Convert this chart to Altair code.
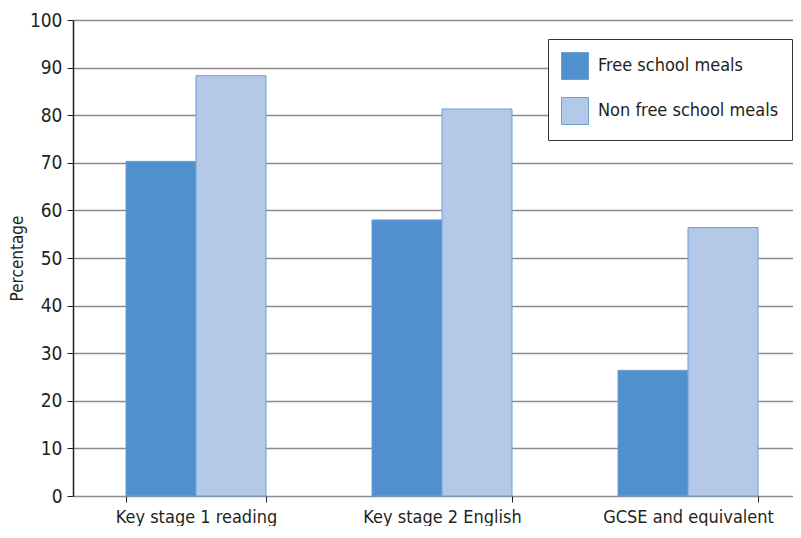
import altair as alt
import pandas as pd

categories = ["Key stage 1 reading", "Key stage 2 English", "GCSE and equivalent"]
series_names = ["Free school meals", "Non free school meals"]
fsm = [70.3, 58.0, 26.4]
non_fsm = [88.3, 81.3, 56.4]
y_ticks = [0, 10, 20, 30, 40, 50, 60, 70, 80, 90, 100]

rows = []
for c, a, b in zip(categories, fsm, non_fsm):
    rows.append({"cat": c, "series": series_names[0], "value": a})
    rows.append({"cat": c, "series": series_names[1], "value": b})
df = pd.DataFrame(rows)

FONT = "Liberation Sans Narrow, DejaVu Sans Condensed, Arial Narrow, sans-serif"
TXT = "#231f20"

bars = alt.Chart(df).mark_bar(strokeWidth=1).encode(
    x=alt.X(
        "cat:N",
        sort=categories,
        scale=alt.Scale(range=[0, 738], paddingInner=0.4309, paddingOuter=0.2154),
        axis=alt.Axis(
            title=None,
            domain=False,
            tickBand="extent",
            tickSize=6,
            tickColor=TXT,
            tickWidth=1,
            labelAngle=0,
            labelFont=FONT,
            labelFontSize=18,
            labelColor=TXT,
            labelPadding=6,
        ),
    ),
    xOffset=alt.XOffset(
        "series:N", sort=series_names, scale=alt.Scale(paddingInner=0, paddingOuter=0)
    ),
    y=alt.Y(
        "value:Q",
        scale=alt.Scale(domain=[0, 100], nice=False),
        axis=alt.Axis(
            title="Percentage",
            values=y_ticks,
            titleFont=FONT,
            titleFontSize=17,
            titleFontWeight="normal",
            titleColor=TXT,
            titlePadding=3,
            labelFont=FONT,
            labelFontSize=19,
            labelColor=TXT,
            labelPadding=5,
            domainColor=TXT,
            domainWidth=1.5,
            tickColor=TXT,
            tickSize=6,
            tickWidth=1,
            grid=True,
            gridColor="#8c8c8c",
            gridWidth=1.5,
        ),
    ),
    color=alt.Color(
        "series:N",
        sort=series_names,
        scale=alt.Scale(domain=series_names, range=["#5090cd", "#b4c9e8"]),
        legend=alt.Legend(
            title=None,
            orient="none",
            legendX=475,
            legendY=19,
            direction="vertical",
            symbolType="square",
            symbolSize=729,
            symbolStrokeWidth=1,
            symbolStrokeColor="#6a9fd8",
            labelFont=FONT,
            labelFontSize=18,
            labelColor=TXT,
            labelOffset=9,
            labelLimit=0,
            rowPadding=13,
            padding=13,
            strokeColor="#333333",
            fillColor="white",
            cornerRadius=0,
        ),
    ),
    stroke=alt.value("#6a9fd8"),
)

chart = bars.properties(
    width=720,
    height=476,
    autosize=alt.AutoSizeParams(type="none"),
    padding={"left": 65, "top": 12, "right": 0, "bottom": 30},
).configure_view(stroke=None).configure(background="white")

chart.save("out.html", embed_options={"renderer": "svg", "actions": False})
